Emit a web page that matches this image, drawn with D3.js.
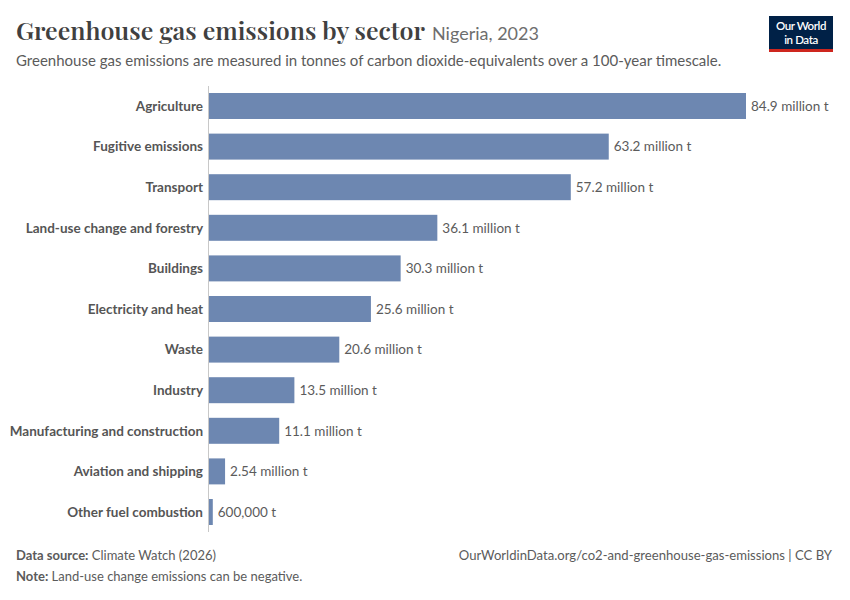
<!DOCTYPE html>
<html>
<head>
<meta charset="utf-8">
<script src="https://cdn.jsdelivr.net/npm/d3@7"></script>
<style>
  html, body { margin: 0; padding: 0; background: #fff; }
  svg { display: block; }
</style>
</head>
<body>
<svg id="chart" width="850" height="600"></svg>
<script>
const sectors = ["Agriculture", "Fugitive emissions", "Transport", "Land-use change and forestry", "Buildings", "Electricity and heat", "Waste", "Industry", "Manufacturing and construction", "Aviation and shipping", "Other fuel combustion"];
const emissions = [84.9e6, 63.2e6, 57.2e6, 36.1e6, 30.3e6, 25.6e6, 20.6e6, 13.5e6, 11.1e6, 2.54e6, 0.6e6];
const valueLabels = ["84.9 million t", "63.2 million t", "57.2 million t", "36.1 million t", "30.3 million t", "25.6 million t", "20.6 million t", "13.5 million t", "11.1 million t", "2.54 million t", "600,000 t"];

const svg = d3.select("#chart");
const font = "Lato, 'Noto Sans', sans-serif";

const x = d3.scaleLinear().domain([0, 84.9e6]).range([209, 746]);
const y = d3.scaleBand().domain(sectors).range([85.7, 532.3]).paddingInner(0.36).paddingOuter(0.18);

// Title
const title = svg.append("text")
  .attr("x", 16).attr("y", 40)
  .attr("font-family", "'Playfair Display', 'DejaVu Serif', serif")
  .attr("font-size", 23.5).attr("font-weight", 600).attr("fill", "#404040")
  .text("Greenhouse gas emissions by sector");
const tl = title.node().getComputedTextLength();
if (tl > 0) title.attr("textLength", 409).attr("lengthAdjust", "spacingAndGlyphs");

svg.append("text")
  .attr("x", 432).attr("y", 40)
  .attr("font-family", font).attr("font-size", 18).attr("fill", "#6e6e6e")
  .text("Nigeria, 2023");

svg.append("text")
  .attr("x", 16).attr("y", 66)
  .attr("font-family", font).attr("font-size", 15).attr("fill", "#5b5b5b")
  .text("Greenhouse gas emissions are measured in tonnes of carbon dioxide-equivalents over a 100-year timescale.");

// Logo
svg.append("rect").attr("x", 769).attr("y", 16).attr("width", 64).attr("height", 36).attr("fill", "#002147");
svg.append("rect").attr("x", 769).attr("y", 49).attr("width", 64).attr("height", 3).attr("fill", "#ce261e");
svg.append("text").attr("x", 801).attr("y", 30).attr("text-anchor", "middle")
  .attr("font-family", font).attr("font-size", 11.5).attr("font-weight", 600).attr("fill", "#fff")
  .attr("letter-spacing", -0.4).text("Our World");
svg.append("text").attr("x", 801).attr("y", 44).attr("text-anchor", "middle")
  .attr("font-family", font).attr("font-size", 11.5).attr("font-weight", 600).attr("fill", "#fff")
  .attr("letter-spacing", -0.4).text("in Data");

// Zero line
svg.append("line")
  .attr("x1", x(0) - 0.5).attr("x2", x(0) - 0.5)
  .attr("y1", 86).attr("y2", 532)
  .attr("stroke", "#c8c8c8").attr("stroke-width", 1);

// Bars
svg.append("g").selectAll("rect").data(sectors).join("rect")
  .attr("x", x(0))
  .attr("y", d => y(d))
  .attr("width", (d, i) => Math.max(0, x(emissions[i]) - x(0)))
  .attr("height", y.bandwidth())
  .attr("fill", "#6d87b1");

// Category labels
svg.append("g").selectAll("text").data(sectors).join("text")
  .attr("x", 203)
  .attr("y", d => y(d) + y.bandwidth() / 2)
  .attr("dy", "0.35em")
  .attr("text-anchor", "end")
  .attr("font-family", font).attr("font-size", 13.5).attr("font-weight", 700)
  .attr("fill", "#555")
  .text(d => d);

// Value labels
svg.append("g").selectAll("text").data(sectors).join("text")
  .attr("x", (d, i) => x(emissions[i]) + 5)
  .attr("y", d => y(d) + y.bandwidth() / 2)
  .attr("dy", "0.35em")
  .attr("font-family", font).attr("font-size", 13.5)
  .attr("fill", "#5b5b5b")
  .text((d, i) => valueLabels[i]);

// Footer
const src = svg.append("text").attr("x", 16).attr("y", 560)
  .attr("font-family", font).attr("font-size", 13).attr("fill", "#5b5b5b");
src.append("tspan").attr("font-weight", 700).text("Data source:");
src.append("tspan").text(" Climate Watch (2026)");

const note = svg.append("text").attr("x", 16).attr("y", 581)
  .attr("font-family", font).attr("font-size", 13).attr("fill", "#5b5b5b");
note.append("tspan").attr("font-weight", 700).text("Note:");
note.append("tspan").text(" Land-use change emissions can be negative.");

svg.append("text").attr("x", 832).attr("y", 560).attr("text-anchor", "end")
  .attr("font-family", font).attr("font-size", 13.1).attr("fill", "#5b5b5b")
  .text("OurWorldinData.org/co2-and-greenhouse-gas-emissions | CC BY");
</script>
</body>
</html>
